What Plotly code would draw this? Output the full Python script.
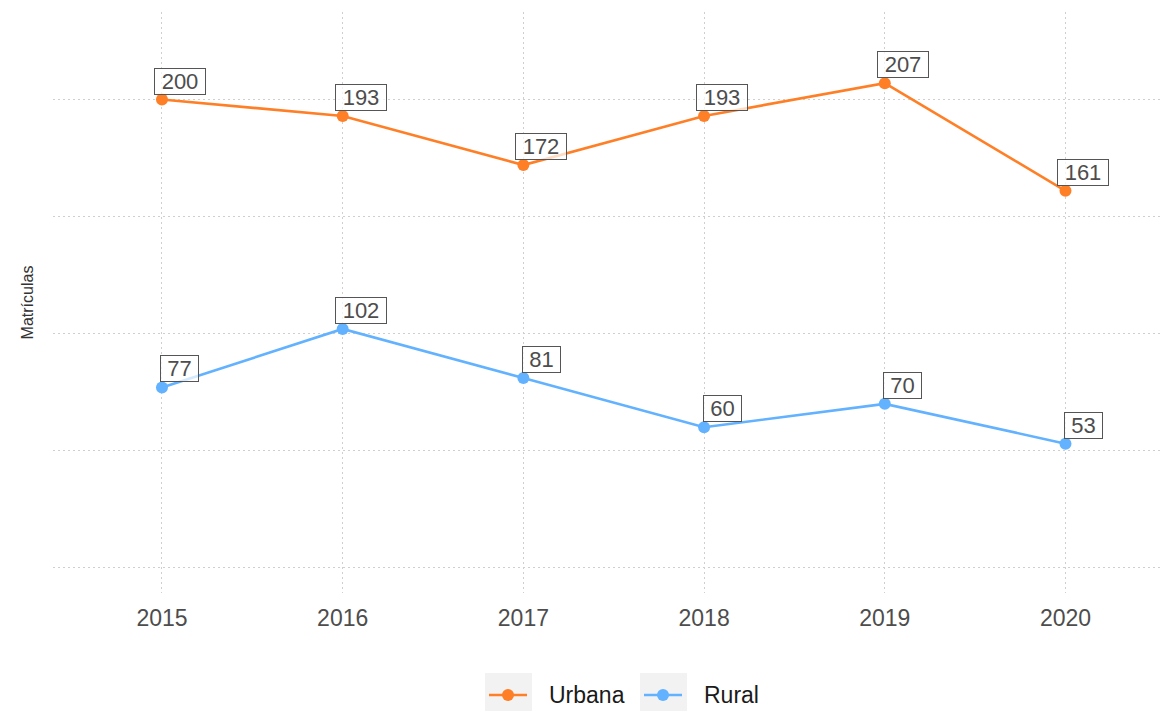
import plotly.graph_objects as go

# Enrollment counts by year and location
years = [2015, 2016, 2017, 2018, 2019, 2020]
urbana = [200, 193, 172, 193, 207, 161]
rural = [77, 102, 81, 60, 70, 53]

series_names = ["Urbana", "Rural"]
series_colors = ["#FF7F27", "#62B2FF"]

W, H = 1161, 711
ML, MR, MT, MB = 53, 1, 12, 118
PW, PH = W - ML - MR, H - MT - MB
FONT = "Liberation Sans, Arial, Helvetica, sans-serif"


def px_x(px):
    return (px - ML) / PW


def px_y(py):
    return (H - MB - py) / PH


fig = go.Figure()
for name, vals, col in zip(series_names, [urbana, rural], series_colors):
    fig.add_trace(go.Scatter(
        x=years, y=vals, name=name, mode="lines+markers",
        line=dict(color=col, width=2.6),
        marker=dict(color=col, size=12),
        showlegend=False,
    ))
    # boxed value labels, nudged up and to the right of each point
    for xv, yv in zip(years, vals):
        fig.add_annotation(
            x=xv, y=yv, text=str(yv), showarrow=False,
            xanchor="center", yanchor="bottom", xshift=18, yshift=5,
            width=13 * len(str(yv)) + 9, height=23,
            font=dict(family=FONT, size=22, color="#4D4D4D"),
            bgcolor="rgba(255,255,255,0.72)", bordercolor="#555555",
            borderwidth=1, borderpad=1,
        )

# legend drawn as keys with grey backgrounds
legend_keys = [
    dict(box=(485, 532), line=(489, 527), dot=508, text=547),
    dict(box=(640, 687), line=(644, 682), dot=663, text=702),
]
shapes = []
LEG_Y = 695
for key, name, col in zip(legend_keys, series_names, series_colors):
    shapes.append(dict(type="rect", xref="paper", yref="paper",
                       x0=px_x(key["box"][0]), x1=px_x(key["box"][1]),
                       y0=px_y(673), y1=px_y(720),
                       fillcolor="#F2F2F2", line=dict(width=0), layer="below"))
    shapes.append(dict(type="line", xref="paper", yref="paper",
                       x0=px_x(key["line"][0]), x1=px_x(key["line"][1]),
                       y0=px_y(LEG_Y), y1=px_y(LEG_Y),
                       line=dict(color=col, width=2.6)))
    shapes.append(dict(type="circle", xref="paper", yref="paper",
                       x0=px_x(key["dot"] - 6), x1=px_x(key["dot"] + 6),
                       y0=px_y(LEG_Y + 6), y1=px_y(LEG_Y - 6),
                       fillcolor=col, line=dict(width=0)))
    fig.add_annotation(x=px_x(key["text"]), y=px_y(LEG_Y), xref="paper", yref="paper",
                       text=name, showarrow=False, xanchor="left", yanchor="middle",
                       font=dict(family=FONT, size=23, color="#1A1A1A"))

fig.update_layout(
    width=W, height=H,
    margin=dict(l=ML, r=MR, t=MT, b=MB),
    paper_bgcolor="white", plot_bgcolor="white",
    font=dict(family=FONT),
    shapes=shapes,
    showlegend=False,
)
fig.update_xaxes(
    range=[2014.397, 2020.523], tickvals=years, ticktext=[str(y) for y in years],
    showgrid=True, gridcolor="#CFCFCF", gridwidth=1, griddash="2px,3px",
    zeroline=False, showline=False, ticks="",
    tickfont=dict(family=FONT, size=23, color="#4D4D4D"),
    ticklabelstandoff=9,
)
fig.update_yaxes(
    range=[-10.8, 237.4], tickvals=[0, 50, 100, 150, 200],
    showticklabels=False,
    showgrid=True, gridcolor="#CFCFCF", gridwidth=1, griddash="2px,3px",
    zeroline=False, showline=False, ticks="",
    title=dict(text="Matrículas", standoff=14,
               font=dict(family=FONT, size=16, color="#333333")),
)

fig.write_html("out.html")
